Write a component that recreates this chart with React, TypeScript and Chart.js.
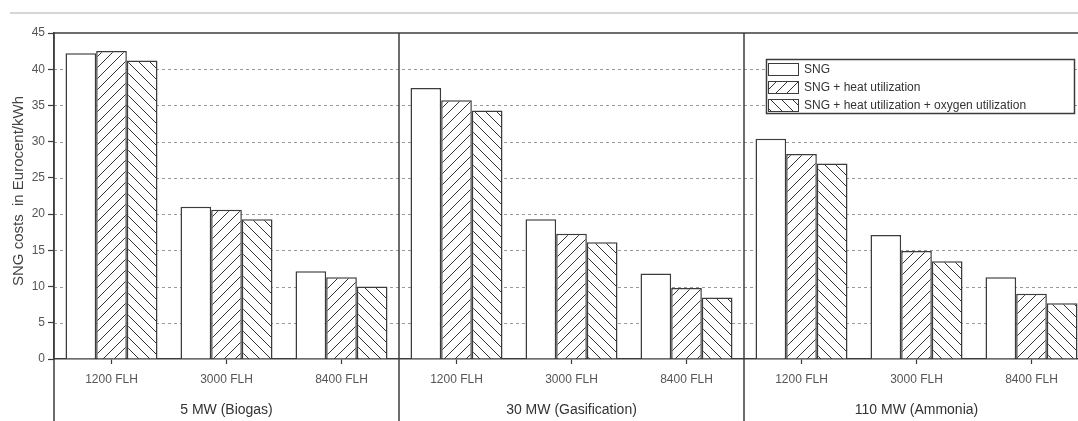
import React, { useEffect, useRef } from "react";
import { Chart, registerables } from "chart.js";

Chart.register(...registerables);

const categories = [
  "1200 FLH", "3000 FLH", "8400 FLH",
  "1200 FLH", "3000 FLH", "8400 FLH",
  "1200 FLH", "3000 FLH", "8400 FLH",
];
const groupNames = ["5 MW (Biogas)", "30 MW (Gasification)", "110 MW (Ammonia)"];
const seriesLabels = [
  "SNG",
  "SNG + heat utilization",
  "SNG + heat utilization + oxygen utilization",
];
const sngValues = [42.2, 21.0, 12.1, 37.4, 19.3, 11.8, 30.4, 17.1, 11.3];
const heatValues = [42.5, 20.6, 11.3, 35.7, 17.3, 9.8, 28.3, 14.9, 9.0];
const oxygenValues = [41.2, 19.3, 10.0, 34.3, 16.1, 8.5, 27.0, 13.5, 7.7];
const yMin = 0;
const yMax = 45;
const yStep = 5;
const yAxisTitle = "SNG costs  in Eurocent/kWh";

const FONT = '"Liberation Sans", Arial, sans-serif';
const DARK = "#3c3c3c";

function makeHatch(ctx: CanvasRenderingContext2D, dir: number) {
  const s = 11;
  const c = document.createElement("canvas");
  c.width = s;
  c.height = s;
  const g = c.getContext("2d")!;
  g.fillStyle = "#ffffff";
  g.fillRect(0, 0, s, s);
  g.strokeStyle = "#333333";
  g.lineWidth = 1;
  g.beginPath();
  if (dir > 0) {
    g.moveTo(0, s);
    g.lineTo(s, 0);
    g.moveTo(-2, 2);
    g.lineTo(2, -2);
    g.moveTo(s - 2, s + 2);
    g.lineTo(s + 2, s - 2);
  } else {
    g.moveTo(0, 0);
    g.lineTo(s, s);
    g.moveTo(s - 2, -2);
    g.lineTo(s + 2, 2);
    g.moveTo(-2, s - 2);
    g.lineTo(2, s + 2);
  }
  g.stroke();
  return ctx.createPattern(c, "repeat")!;
}

const decorPlugin = {
  id: "decor",
  beforeDatasetsDraw(chart: any) {
    const { ctx, chartArea, scales } = chart;
    const y = scales.y;
    ctx.save();
    ctx.strokeStyle = "#9a9a9a";
    ctx.lineWidth = 1;
    ctx.setLineDash([3, 3]);
    for (let v = yMin + yStep; v < yMax; v += yStep) {
      const py = Math.round(y.getPixelForValue(v)) + 0.5;
      ctx.beginPath();
      ctx.moveTo(chartArea.left, py);
      ctx.lineTo(chart.width, py);
      ctx.stroke();
    }
    ctx.restore();
  },
  afterDraw(chart: any) {
    const { ctx, chartArea, scales } = chart;
    const x = scales.x;
    const H = chart.height;
    ctx.save();
    // top light rule
    ctx.strokeStyle = "#c8c8c8";
    ctx.lineWidth = 1.5;
    ctx.beginPath();
    ctx.moveTo(10, 13);
    ctx.lineTo(chart.width, 13);
    ctx.stroke();

    // plot top border
    ctx.strokeStyle = DARK;
    ctx.lineWidth = 1.5;
    ctx.beginPath();
    ctx.moveTo(chartArea.left, chartArea.top);
    ctx.lineTo(chart.width, chartArea.top);
    ctx.stroke();

    // left axis extended + group separators
    const seps = [chartArea.left];
    for (let gi = 1; gi < groupNames.length; gi++) {
      const a = x.getPixelForValue(gi * 3 - 1);
      const b = x.getPixelForValue(gi * 3);
      seps.push((a + b) / 2);
    }
    ctx.lineWidth = 1.5;
    seps.forEach((sx) => {
      ctx.beginPath();
      ctx.moveTo(sx, chartArea.top);
      ctx.lineTo(sx, H);
      ctx.stroke();
    });

    // y axis title
    ctx.save();
    ctx.translate(23, 191);
    ctx.rotate(-Math.PI / 2);
    ctx.fillStyle = "#444444";
    ctx.font = `15px ${FONT}`;
    ctx.textAlign = "center";
    ctx.textBaseline = "alphabetic";
    ctx.fillText(yAxisTitle, 0, 0);
    ctx.restore();

    // group labels
    ctx.fillStyle = "#333333";
    ctx.font = `14px ${FONT}`;
    ctx.textAlign = "center";
    ctx.textBaseline = "alphabetic";
    groupNames.forEach((name, gi) => {
      const cx = x.getPixelForValue(gi * 3 + 1);
      ctx.fillText(name, cx, 414);
    });

    // legend
    const lx = 766.5;
    const ly = 59.5;
    const lw = 308;
    const lh = 54;
    ctx.fillStyle = "#ffffff";
    ctx.fillRect(lx, ly, lw, lh);
    ctx.strokeStyle = DARK;
    ctx.lineWidth = 1.5;
    ctx.strokeRect(lx, ly, lw, lh);
    ctx.font = `12px ${FONT}`;
    ctx.textAlign = "left";
    ctx.textBaseline = "middle";
    chart.data.datasets.forEach((ds: any, i: number) => {
      const sy = 63 + i * 18;
      ctx.fillStyle = ds.backgroundColor;
      ctx.fillRect(768, sy, 31, 12);
      ctx.strokeStyle = DARK;
      ctx.lineWidth = 1;
      ctx.strokeRect(768.5, sy + 0.5, 30, 12);
      ctx.fillStyle = "#333333";
      ctx.fillText(ds.label, 804, sy + 6.5);
    });
    ctx.restore();
  },
};

export default function App() {
  const ref = useRef<HTMLCanvasElement | null>(null);

  useEffect(() => {
    const canvas = ref.current!;
    const ctx = canvas.getContext("2d")!;
    const hatchUp = makeHatch(ctx, 1);
    const hatchDown = makeHatch(ctx, -1);
    const colors = ["#ffffff", hatchUp, hatchDown];
    const values = [sngValues, heatValues, oxygenValues];

    const chart = new Chart(canvas, {
      type: "bar",
      data: {
        labels: categories,
        datasets: seriesLabels.map((label, i) => ({
          label,
          data: values[i],
          backgroundColor: colors[i] as any,
          borderColor: DARK,
          borderWidth: 1.5,
          categoryPercentage: 0.8,
          barPercentage: 1.0,
        })),
      },
      options: {
        responsive: false,
        maintainAspectRatio: false,
        devicePixelRatio: 1,
        animation: false,
        layout: { padding: { left: 0, top: 33, right: 11, bottom: 0 } },
        plugins: {
          legend: { display: false },
          tooltip: { enabled: false },
        },
        scales: {
          x: {
            type: "category",
            offset: true,
            grid: {
              display: true,
              drawOnChartArea: false,
              drawTicks: true,
              offset: false,
              tickLength: 5,
              tickColor: DARK,
              tickWidth: 1.2,
            },
            border: { display: true, color: DARK, width: 1.5 },
            ticks: {
              color: "#555555",
              font: { family: FONT, size: 12 },
              padding: 8,
              maxRotation: 0,
              autoSkip: false,
            },
            afterFit(scale: any) {
              scale.height = 62;
            },
          },
          y: {
            min: yMin,
            max: yMax,
            grid: {
              display: true,
              drawOnChartArea: false,
              drawTicks: true,
              tickLength: 6,
              tickColor: DARK,
              tickWidth: 1.2,
            },
            border: { display: true, color: DARK, width: 1.5 },
            ticks: {
              stepSize: yStep,
              color: "#555555",
              font: { family: FONT, size: 12 },
              padding: 3,
            },
            afterFit(scale: any) {
              scale.width = 54;
            },
          },
        },
      },
      plugins: [decorPlugin],
    });
    return () => chart.destroy();
  }, []);

  return (
    <div
      style={{
        position: "fixed",
        left: 0,
        top: 0,
        width: 1078,
        height: 421,
        overflow: "hidden",
        background: "#ffffff",
      }}
    >
      <canvas
        ref={ref}
        width={1100}
        height={421}
        style={{ display: "block", width: 1100, height: 421 }}
      />
    </div>
  );
}
